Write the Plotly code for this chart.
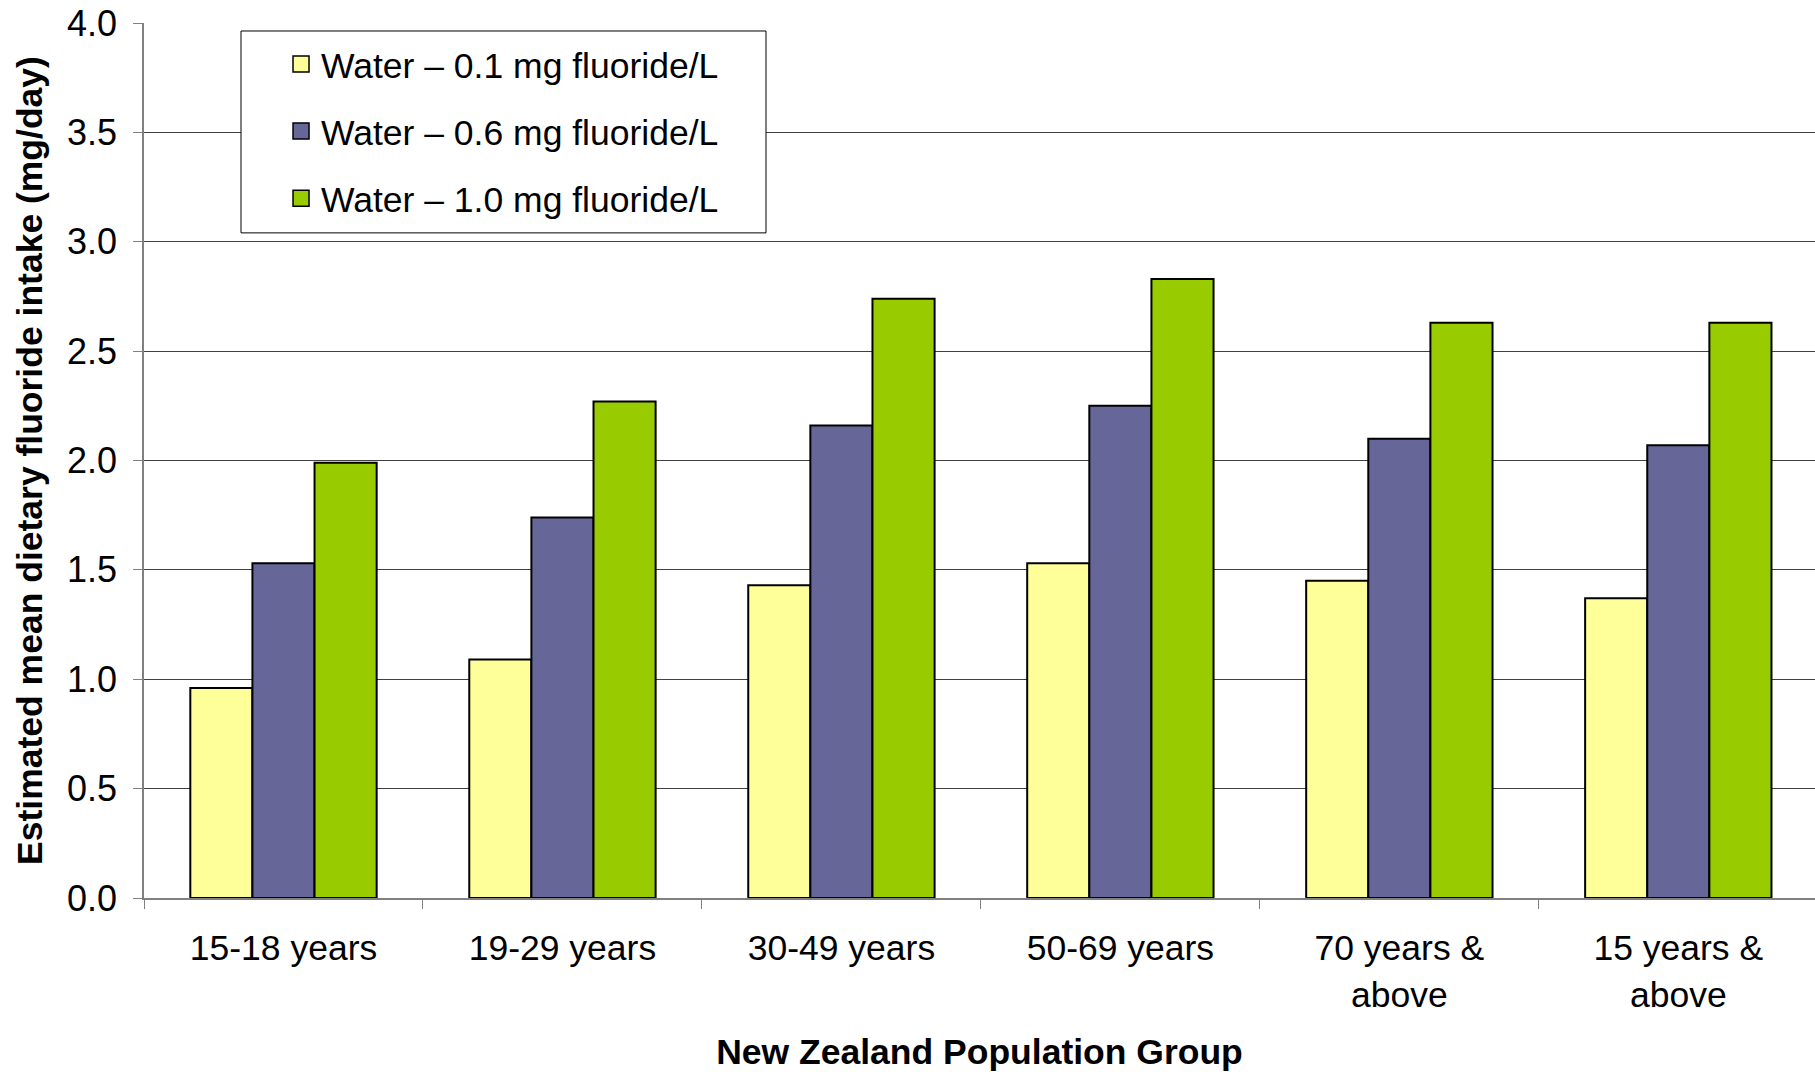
import plotly.graph_objects as go

categories = ["15-18 years", "19-29 years", "30-49 years", "50-69 years",
              "70 years &<br>above", "15 years &<br>above"]
series_names = ["Water – 0.1 mg fluoride/L", "Water – 0.6 mg fluoride/L",
                "Water – 1.0 mg fluoride/L"]
water_01 = [0.96, 1.09, 1.43, 1.53, 1.45, 1.37]
water_06 = [1.53, 1.74, 2.16, 2.25, 2.10, 2.07]
water_10 = [1.99, 2.27, 2.74, 2.83, 2.63, 2.63]
colors = ["#FFFF99", "#666699", "#99CC00"]
y_ticks = [0.0, 0.5, 1.0, 1.5, 2.0, 2.5, 3.0, 3.5, 4.0]

FONT = "Liberation Sans, Arial, sans-serif"
FS = 35.5

fig = go.Figure()
for name, vals, col in zip(series_names, [water_01, water_06, water_10], colors):
    fig.add_trace(go.Bar(
        x=categories, y=vals, name=name,
        marker=dict(color=col, line=dict(color="black", width=2)),
        showlegend=False,
    ))
    fig.add_trace(go.Scatter(
        x=[None], y=[None], mode="markers", name=name,
        marker=dict(symbol="square", size=16, color=col,
                    line=dict(color="black", width=1.5)),
        showlegend=True, legendgroup=name,
    ))

fig.update_layout(
    width=1815, height=1072,
    margin=dict(l=144, r=0, t=23, b=174),
    paper_bgcolor="white", plot_bgcolor="white",
    barmode="group", bargap=0.332, bargroupgap=0,
    font=dict(family=FONT, size=FS, color="black"),
    legend=dict(
        x=0.082, y=0.987, xanchor="left", yanchor="top",
        bgcolor="rgba(0,0,0,0)", borderwidth=0,
        font=dict(size=FS), traceorder="grouped", tracegroupgap=18,
        itemsizing="trace",
    ),
    shapes=[dict(type="rect", xref="paper", yref="paper",
                 x0=(241 - 144) / 1671, x1=(766 - 144) / 1671,
                 y0=(898.5 - 233) / 875.5, y1=(898.5 - 31) / 875.5,
                 line=dict(color="black", width=1), fillcolor="white",
                 layer="above")],
)
fig.update_xaxes(
    type="category", range=[-0.5, 5.49], automargin=False,
    showline=True, linecolor="#808080", linewidth=1.5,
    ticks="outside", tickson="boundaries", ticklen=9, tickcolor="#808080",
    ticklabelstandoff=18,
    showgrid=False,
    title=dict(text="<b>New Zealand Population Group</b>", font=dict(size=FS),
               standoff=30),
)
fig.update_yaxes(
    range=[0, 4.0], tickvals=y_ticks, tickformat=".1f", automargin=False,
    showline=True, linecolor="#808080", linewidth=1.5,
    ticks="outside", ticklen=9, tickcolor="#808080",
    ticklabelstandoff=9, tickfont=dict(size=36),
    showgrid=True, gridcolor="#404040", gridwidth=1,
    zeroline=False,
    title=dict(text="<b>Estimated mean dietary fluoride intake (mg/day)</b>",
               font=dict(size=FS), standoff=14),
)

fig.write_html(
    "out.html",
    config={"displayModeBar": False},
    post_script="document.body.style.margin='0';document.body.style.overflow='hidden';",
)
